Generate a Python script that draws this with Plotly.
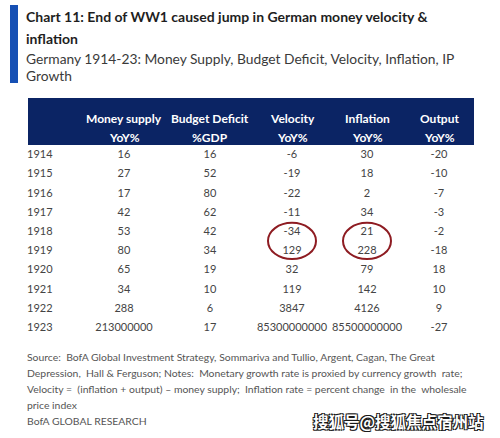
import plotly.graph_objects as go

# ---- data ----
years = ["1914", "1915", "1916", "1917", "1918", "1919", "1920", "1921", "1922", "1923"]
money_supply = ["16", "27", "17", "42", "53", "80", "65", "34", "288", "213000000"]
budget_deficit = ["16", "52", "80", "62", "42", "34", "19", "10", "6", "17"]
velocity = ["-6", "-19", "-22", "-11", "-34", "129", "32", "119", "3847", "85300000000"]
inflation = ["30", "18", "2", "34", "21", "228", "79", "142", "4126", "85500000000"]
output = ["-20", "-10", "-7", "-3", "-2", "-18", "18", "10", "9", "-27"]
header_line1 = ["Money supply", "Budget Deficit", "Velocity", "Inflation", "Output"]
header_line2 = ["YoY%", "%GDP", "YoY%", "YoY%", "YoY%"]
highlight_years = ["1918", "1919"]
highlight_cols = [2, 3]  # Velocity, Inflation (index into value columns)

title_lines = ["Chart 11: End of WW1 caused jump in German money velocity &", "inflation"]
subtitle_lines = ["Germany 1914-23: Money Supply, Budget Deficit, Velocity, Inflation, IP", "Growth"]
foot_lines = [
    "Source:  BofA Global Investment Strategy, Sommariva and Tullio, Argent, Cagan, The Great",
    "Depression,  Hall &amp; Ferguson; Notes:  Monetary growth rate is proxied by currency growth  rate;",
    "Velocity =  (inflation + output) \u2013 money supply;  Inflation rate = percent change  in the  wholesale",
    "price index",
    "BofA GLOBAL RESEARCH",
]
watermark = "搜狐号@搜狐焦点宿州站"

# ---- layout constants (pixel space) ----
W, H = 500, 438
FONT = "Lato, sans-serif"
TABLE_L, TABLE_R = 28, 474
HEAD_T, HEAD_B = 98, 145
col_x = [124, 210, 292, 367, 439]
year_x = 27
row0, row_step = 155.5, 19.2
row_y = [row0 + i * row_step for i in range(len(years))]
text_col = "#444444"
DATA_SIZE = 11

fig = go.Figure()

# table body via scatter text
value_cols = [money_supply, budget_deficit, velocity, inflation, output]
fig.add_trace(go.Scatter(
    x=[year_x] * len(years), y=row_y, text=years, mode="text",
    textposition="middle right",
    textfont=dict(family=FONT, size=DATA_SIZE, color=text_col),
    hoverinfo="skip", showlegend=False,
))
for cx, vals in zip(col_x, value_cols):
    fig.add_trace(go.Scatter(
        x=[cx] * len(vals), y=row_y, text=vals, mode="text",
        textposition="middle center",
        textfont=dict(family=FONT, size=DATA_SIZE, color=text_col),
        hoverinfo="skip", showlegend=False,
    ))

shapes = []
# blue accent bar
shapes.append(dict(type="rect", xref="x", yref="y", x0=10, x1=18, y0=5, y1=83,
                   fillcolor="#1650b4", line=dict(width=0), layer="below"))
# header band
shapes.append(dict(type="rect", xref="x", yref="y", x0=TABLE_L, x1=TABLE_R, y0=HEAD_T, y1=HEAD_B,
                   fillcolor="#0b2464", line=dict(width=0), layer="below"))
# highlight ellipses around 1918-19 velocity & inflation
yi = [years.index(y) for y in highlight_years]
for ci in highlight_cols:
    cx = col_x[ci]
    shapes.append(dict(type="circle", xref="x", yref="y",
                       x0=cx - 24, x1=cx + 24,
                       y0=row_y[yi[0]] - 9.5, y1=row_y[yi[1]] + 7.5,
                       line=dict(color="#8e1c22", width=2)))

ann = []
# header texts
for cx, l1, l2 in zip(col_x, header_line1, header_line2):
    ann.append(dict(x=cx, y=118, text=f"<b>{l1}</b>", showarrow=False, xref="x", yref="y",
                    font=dict(family=FONT, size=12, color="white"), xanchor="center", yanchor="middle"))
    ann.append(dict(x=cx, y=137, text=f"<b>{l2}</b>", showarrow=False, xref="x", yref="y",
                    font=dict(family=FONT, size=12, color="white"), xanchor="center", yanchor="middle"))
# title
for i, t in enumerate(title_lines):
    ann.append(dict(x=24, y=16 + i * 22, text=f"<b>{t}</b>", showarrow=False, xref="x", yref="y",
                    font=dict(family=FONT, size=14, color="#1e1e1e"), xanchor="left", yanchor="middle"))
for i, t in enumerate(subtitle_lines):
    ann.append(dict(x=24, y=58 + i * 17, text=t, showarrow=False, xref="x", yref="y",
                    font=dict(family=FONT, size=13.8, color="#3a3a3a"), xanchor="left", yanchor="middle"))
# footnotes
for i, t in enumerate(foot_lines):
    ann.append(dict(x=25, y=357 + i * 16, text=t, showarrow=False, xref="x", yref="y",
                    font=dict(family=FONT, size=10.4, color="#555555"), xanchor="left", yanchor="middle"))
# watermark
ann.append(dict(x=486, y=421, text=f"<b>{watermark}</b>", showarrow=False, xref="x", yref="y",
                font=dict(family="Noto Sans CJK SC", size=15.5, color="white",
                          shadow="-1px -1px 0 #1a1a1a, 1px -1px 0 #1a1a1a, -1px 1px 0 #1a1a1a, 1px 1px 0 #1a1a1a"),
                xanchor="right", yanchor="middle"))

fig.update_layout(
    width=W, height=H, margin=dict(l=0, r=0, t=0, b=0),
    paper_bgcolor="white", plot_bgcolor="white",
    xaxis=dict(range=[0, W], visible=False, fixedrange=True),
    yaxis=dict(range=[H, 0], visible=False, fixedrange=True),
    shapes=shapes, annotations=ann, showlegend=False,
)
fig.write_html("out.html", config={"displayModeBar": False},
               post_script="document.body.style.margin='0';")
